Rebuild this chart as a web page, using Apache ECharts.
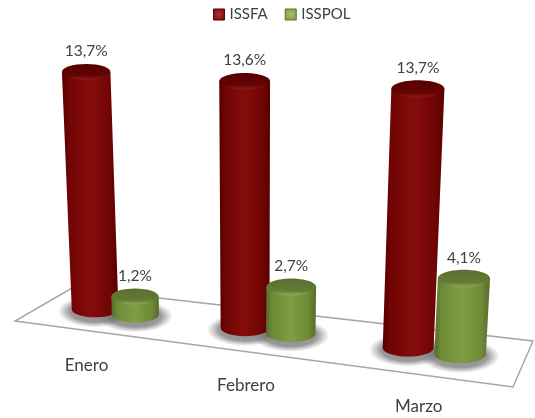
<!DOCTYPE html>
<html>
<head>
<meta charset="utf-8">
<style>
  html, body { margin: 0; padding: 0; background: #fff; }
  #chart { width: 535px; height: 418px; }
</style>
<script src="https://cdn.jsdelivr.net/npm/echarts@6/dist/echarts.min.js"></script>
</head>
<body>
<div id="chart"></div>
<script>
var categories = ['Enero', 'Febrero', 'Marzo'];
var issfa = [13.7, 13.6, 13.7];
var isspol = [1.2, 2.7, 4.1];

var chart = echarts.init(document.getElementById('chart'));
var font = 'Lato, "Open Sans", sans-serif';
var textColor = '#404040';

// floor plane: back-left, back-right, front-right, front-left
var corners = [[72, 288], [533, 341], [513, 387], [15, 321]];
var barDepth = 0.485;
var barRadius = 24.4;
var bandShift = [0.004, 0.012, 0.006];
var floorSink = 3.7;

// homography from the unit square to the floor corners
var H = (function () {
    var c = corners;
    var dx1 = c[1][0] - c[2][0], dx2 = c[3][0] - c[2][0], sx = c[0][0] - c[1][0] + c[2][0] - c[3][0];
    var dy1 = c[1][1] - c[2][1], dy2 = c[3][1] - c[2][1], sy = c[0][1] - c[1][1] + c[2][1] - c[3][1];
    var den = dx1 * dy2 - dx2 * dy1;
    var g = (sx * dy2 - dx2 * sy) / den;
    var h = (dx1 * sy - sx * dy1) / den;
    return {
        a: c[1][0] - c[0][0] + g * c[1][0], b: c[3][0] - c[0][0] + h * c[3][0], c: c[0][0],
        d: c[1][1] - c[0][1] + g * c[1][1], e: c[3][1] - c[0][1] + h * c[3][1], f: c[0][1],
        g: g, h: h
    };
})();

function project(u, v) {
    var w = H.g * u + H.h * v + 1;
    return [(H.a * u + H.b * v + H.c) / w, (H.d * u + H.e * v + H.f) / w];
}

// where a bar stands on the floor, from the category band of the x axis
function place(api, offset) {
    var i = api.value(0);
    var u = api.coord([i, 0])[0] / api.getWidth() + bandShift[i] + offset;
    var s = 0.94 + 0.13 * u;
    return { u: u, s: s, base: project(u, barDepth), r: barRadius * s, ry: barRadius * s * 0.34 };
}

function cylinder(offset, colors) {
    return function (params, api) {
        var p = place(api, offset);
        var v = api.value(1);
        var h = (api.size([0, v])[1] - floorSink) * p.s;
        var lean = 0.00024 * (p.base[0] - 252) * h;
        var topX = p.base[0] + lean, topY = p.base[1] - h;
        var rTop = p.r * (1 + 0.04 * h / 240);
        var d = 'M' + (topX - rTop) + ' ' + topY +
            'L' + (p.base[0] - p.r) + ' ' + p.base[1] +
            'A' + p.r + ' ' + p.ry + ' 0 0 0 ' + (p.base[0] + p.r) + ' ' + p.base[1] +
            'L' + (topX + rTop) + ' ' + topY + 'Z';
        return {
            type: 'group',
            children: [
                {
                    type: 'path',
                    shape: { pathData: d },
                    style: {
                        fill: {
                            type: 'linear', x: 0, y: 0, x2: 1, y2: 0,
                            colorStops: [
                                { offset: 0, color: colors.edge },
                                { offset: 0.12, color: colors.dark },
                                { offset: 0.5, color: colors.light },
                                { offset: 0.85, color: colors.dark },
                                { offset: 1, color: colors.edge }
                            ]
                        }
                    }
                },
                {
                    type: 'ellipse',
                    shape: { cx: topX, cy: topY, rx: rTop, ry: p.ry },
                    style: {
                        fill: {
                            type: 'linear', x: 0, y: 0, x2: 0, y2: 1,
                            colorStops: [
                                { offset: 0, color: colors.capDark },
                                { offset: 0.72, color: colors.capMid },
                                { offset: 1, color: colors.capRim }
                            ]
                        }
                    }
                },
                {
                    type: 'text',
                    style: {
                        text: v.toFixed(1).replace('.', ',') + '%',
                        x: topX,
                        y: topY - 21,
                        align: 'center',
                        verticalAlign: 'middle',
                        fill: textColor,
                        font: '15.5px ' + font
                    }
                }
            ]
        };
    };
}

// soft ground shadow: a circle with a fading fill, squashed onto the floor
function barShadow(offset) {
    return function (params, api) {
        var p = place(api, offset);
        var R = p.r + 14;
        return {
            type: 'circle',
            x: p.base[0],
            y: p.base[1] + 2,
            scaleY: (p.ry + 8) / R,
            shape: { cx: 0, cy: 0, r: R },
            style: {
                fill: {
                    type: 'radial', x: 0.5, y: 0.5, r: 0.5,
                    colorStops: [
                        { offset: 0, color: 'rgba(110,110,110,0.8)' },
                        { offset: 0.68, color: 'rgba(110,110,110,0.7)' },
                        { offset: 1, color: 'rgba(130,130,130,0)' }
                    ]
                }
            }
        };
    };
}

function floorItem(params, api) {
    var i = api.value(0);
    var p = place(api, 0);
    var children = [{
        type: 'text',
        style: {
            text: categories[i],
            x: p.base[0] - 32 + 20 * p.u,
            y: p.base[1] + 53 + 3 * p.u,
            align: 'center',
            verticalAlign: 'middle',
            fill: textColor,
            font: '17px ' + font
        }
    }];
    if (i === 0) {
        children.unshift({
            type: 'polygon',
            shape: { points: [project(0, 0), project(1, 0), project(1, 1), project(0, 1)] },
            style: { fill: '#fff', stroke: '#a6a6a6', lineWidth: 1.5 }
        });
    }
    return { type: 'group', children: children };
}

function rows(values) {
    return values.map(function (d, i) { return [i, d]; });
}

var red = { edge: '#560000', dark: '#700404', light: '#860c0c', capDark: '#560000', capMid: '#650303', capRim: '#8c1a1a' };
var green = { edge: '#566b29', dark: '#6d8a36', light: '#7f9e42', capDark: '#5a6f2e', capMid: '#647a35', capRim: '#90ae54' };
var spread = 0.048;

var option = {
    animation: false,
    grid: { left: 0, right: 0, top: 50, bottom: 0 },
    xAxis: { type: 'category', data: categories, show: false },
    yAxis: { type: 'value', min: 0, max: 20, show: false },
    legend: {
        left: 213,
        top: 7,
        padding: 0,
        itemWidth: 11,
        itemHeight: 11,
        itemGap: 17,
        textStyle: { fontFamily: font, fontSize: 15, color: textColor },
        data: [
            { name: 'ISSFA', icon: 'rect', itemStyle: { borderColor: '#5a0000', borderWidth: 1, color: { type: 'radial', x: 0.5, y: 0.5, r: 0.6, colorStops: [{ offset: 0, color: '#b03030' }, { offset: 1, color: '#7a0808' }] } } },
            { name: 'ISSPOL', icon: 'rect', itemStyle: { borderColor: '#5a7028', borderWidth: 1, color: { type: 'radial', x: 0.5, y: 0.5, r: 0.6, colorStops: [{ offset: 0, color: '#a6c06a' }, { offset: 1, color: '#7f9e42' }] } } }
        ]
    },
    series: [
        { type: 'custom', name: 'suelo', z: 1, data: rows(issfa), encode: { x: 0, y: 1 }, renderItem: floorItem },
        { type: 'custom', name: 'sombra ISSFA', z: 2, data: rows(issfa), encode: { x: 0, y: 1 }, renderItem: barShadow(-spread) },
        { type: 'custom', name: 'sombra ISSPOL', z: 2, data: rows(isspol), encode: { x: 0, y: 1 }, renderItem: barShadow(spread) },
        { type: 'custom', name: 'ISSFA', z: 3, itemStyle: { color: '#860c0c' }, data: rows(issfa), encode: { x: 0, y: 1 }, renderItem: cylinder(-spread, red) },
        { type: 'custom', name: 'ISSPOL', z: 4, itemStyle: { color: '#7f9e42' }, data: rows(isspol), encode: { x: 0, y: 1 }, renderItem: cylinder(spread, green) }
    ]
};

chart.setOption(option);
</script>
</body>
</html>
